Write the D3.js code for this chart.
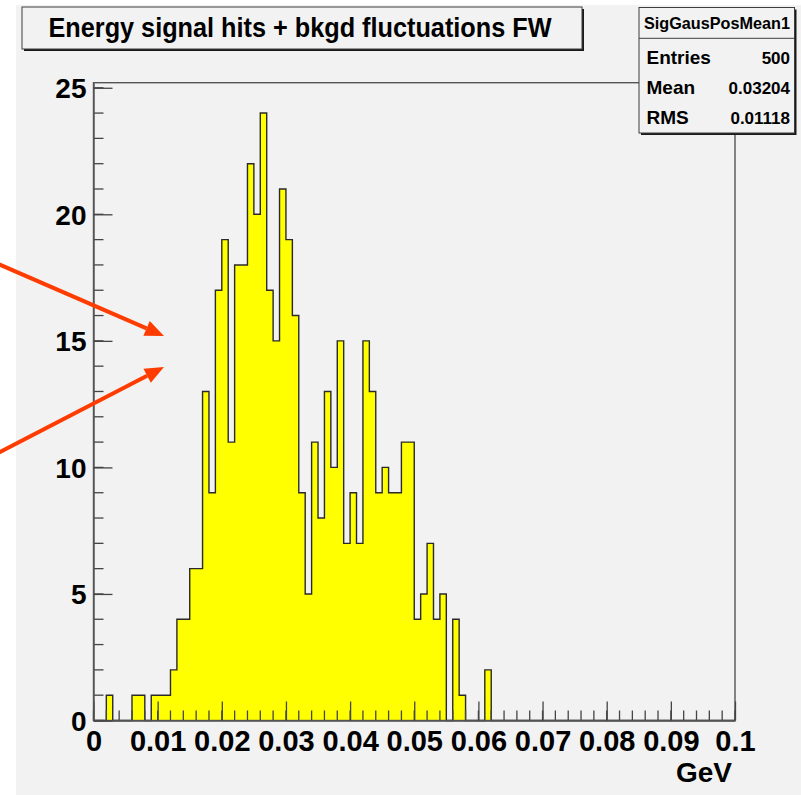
<!DOCTYPE html>
<html>
<head>
<meta charset="utf-8">
<script src="https://cdn.jsdelivr.net/npm/d3@7"></script>
<style>
  html, body { margin: 0; padding: 0; background: #ffffff; }
  svg { display: block; }
  text { font-family: "Liberation Sans", Arial, Helvetica, sans-serif; font-weight: bold; fill: #000; }
</style>
</head>
<body>
<svg id="chart" width="801" height="795"></svg>
<script>
// Histogram: 100 bins of 0.001 GeV between 0 and 0.1 GeV
const binLow = 0;
const binWidth = 0.001;
const counts = [
  0, 0, 1, 0, 0, 0, 1, 1, 0, 1,
  1, 1, 2, 4, 4, 6, 6, 13, 9, 17,
  19, 11, 18, 18, 22, 20, 24, 17, 15, 21,
  19, 16, 9, 5, 11, 8, 13, 10, 15, 7,
  9, 7, 15, 13, 9, 10, 9, 9, 11, 11,
  4, 5, 7, 4, 5, 0, 4, 1, 0, 0,
  0, 2, 0, 0, 0, 0, 0, 0, 0, 0,
  0, 0, 0, 0, 0, 0, 0, 0, 0, 0,
  0, 0, 0, 0, 0, 0, 0, 0, 0, 0,
  0, 0, 0, 0, 0, 0, 0, 0, 0, 0
];

const xMajorTicks = [0, 0.01, 0.02, 0.03, 0.04, 0.05, 0.06, 0.07, 0.08, 0.09, 0.1];
const xTickLabels = ["0", "0.01", "0.02", "0.03", "0.04", "0.05", "0.06", "0.07", "0.08", "0.09", "0.1"];
const yMajorTicks = [0, 5, 10, 15, 20, 25];
const yTickLabels = ["0", "5", "10", "15", "20", "25"];

const titleText = "Energy signal hits + bkgd fluctuations FW";
const xAxisTitle = "GeV";
const statsName = "SigGausPosMean1";
const statsLabels = ["Entries", "Mean", "RMS"];
const statsValues = ["500", "0.03204", "0.01118"];

const svg = d3.select("#chart");
const W = 801, H = 795;
const plot = { left: 93.5, right: 735, top: 82.7, bottom: 720.5 };
const padFill = "#f2f2f2";
const lineCol = "#3c3c3c";

// pad background
svg.append("rect").attr("x", 16).attr("y", 5).attr("width", W - 16).attr("height", H - 5)
  .attr("fill", padFill);

const xMax = binLow + binWidth * counts.length;
const x = d3.scaleLinear().domain([binLow, xMax]).range([plot.left, plot.right]);
const y = d3.scaleLinear().domain([0, d3.max(counts) * 1.05]).range([plot.bottom, plot.top]);

// step contour of the histogram
const pts = [[binLow, 0]];
counts.forEach((c, i) => {
  const lo = binLow + i * binWidth;
  pts.push([lo, c], [lo + binWidth, c]);
});
pts.push([xMax, 0]);

svg.append("path")
  .attr("d", d3.area().x(d => x(d[0])).y0(y(0)).y1(d => y(d[1]))(pts))
  .attr("fill", "#ffff00");
svg.append("path")
  .attr("d", d3.line().x(d => x(d[0])).y(d => y(d[1]))(pts))
  .attr("fill", "none").attr("stroke", "#2a2a2a").attr("stroke-width", 1.4);

// frame
svg.append("rect")
  .attr("x", plot.left).attr("y", plot.top)
  .attr("width", plot.right - plot.left).attr("height", plot.bottom - plot.top)
  .attr("fill", "none").attr("stroke", "#555").attr("stroke-width", 1.4);

// minor ticks
const xMinor = d3.range(0, 51).map(i => +(i * 0.002).toFixed(4));
svg.append("g").selectAll("line").data(xMinor).join("line")
  .attr("x1", d => x(d)).attr("x2", d => x(d))
  .attr("y1", plot.bottom).attr("y2", plot.bottom - 10)
  .attr("stroke", "#444").attr("stroke-width", 1.3);
const yMinor = d3.range(0, 26);
svg.append("g").selectAll("line").data(yMinor).join("line")
  .attr("x1", plot.left).attr("x2", plot.left + 10)
  .attr("y1", d => y(d)).attr("y2", d => y(d))
  .attr("stroke", "#444").attr("stroke-width", 1.3);

// major ticks and labels
const xAxis = d3.axisBottom(x).tickValues(xMajorTicks)
  .tickFormat((d, i) => xTickLabels[i]).tickSize(-19).tickSizeOuter(0).tickPadding(10);
const gx = svg.append("g").attr("transform", `translate(0,${plot.bottom})`).call(xAxis);
gx.select(".domain").attr("stroke", "#555").attr("stroke-width", 1.4);
gx.selectAll(".tick line").attr("stroke", "#444").attr("stroke-width", 1.3);
gx.selectAll(".tick text").attr("font-size", 29).attr("font-family", null).attr("fill", "#000")
  .attr("dy", "0.7em");

const yAxis = d3.axisLeft(y).tickValues(yMajorTicks)
  .tickFormat((d, i) => yTickLabels[i]).tickSize(-19).tickSizeOuter(0).tickPadding(7);
const gy = svg.append("g").attr("transform", `translate(${plot.left},0)`).call(yAxis);
gy.select(".domain").attr("stroke", "#555").attr("stroke-width", 1.4);
gy.selectAll(".tick line").attr("stroke", "#444").attr("stroke-width", 1.3);
gy.selectAll(".tick text").attr("font-size", 28).attr("font-family", null).attr("fill", "#000")
  .attr("dy", "0.35em");

// axis title
svg.append("text").attr("x", 732).attr("y", 782).attr("text-anchor", "end")
  .attr("font-size", 28).text(xAxisTitle);

// boxes with a drop shadow
function shadowBox(x0, y0, x1, y1) {
  svg.append("rect").attr("x", x0 + 2).attr("y", y0 + 2).attr("width", x1 - x0).attr("height", y1 - y0)
    .attr("fill", "#1a1a1a");
  svg.append("rect").attr("x", x0).attr("y", y0).attr("width", x1 - x0).attr("height", y1 - y0)
    .attr("fill", padFill).attr("stroke", lineCol).attr("stroke-width", 1);
}
shadowBox(22, 7, 582, 49);
svg.append("text").attr("x", 300).attr("y", 37).attr("text-anchor", "middle")
  .attr("font-size", 27).attr("textLength", 503).attr("lengthAdjust", "spacingAndGlyphs")
  .text(titleText);

// statistics box
shadowBox(639, 7.5, 794.5, 133);
svg.append("line").attr("x1", 639).attr("x2", 794.5).attr("y1", 38.3).attr("y2", 38.3)
  .attr("stroke", lineCol).attr("stroke-width", 1);
svg.append("text").attr("x", 717).attr("y", 29).attr("text-anchor", "middle")
  .attr("font-size", 16.5).attr("textLength", 146).attr("lengthAdjust", "spacingAndGlyphs")
  .text(statsName);
const rowY = [63.5, 93.5, 124];
statsLabels.forEach((lab, i) => {
  svg.append("text").attr("x", 646.5).attr("y", rowY[i]).attr("font-size", 19).text(lab);
  svg.append("text").attr("x", 790).attr("y", rowY[i]).attr("text-anchor", "end")
    .attr("font-size", 17).text(statsValues[i]);
});

// annotation arrows
function arrow(x0, y0, x1, y1) {
  const col = "#ff3c00";
  const ang = Math.atan2(y1 - y0, x1 - x0);
  const len = 19, half = 8;
  const bx = x1 - len * Math.cos(ang), by = y1 - len * Math.sin(ang);
  svg.append("line").attr("x1", x0).attr("y1", y0).attr("x2", bx).attr("y2", by)
    .attr("stroke", col).attr("stroke-width", 4);
  const px = -Math.sin(ang) * half, py = Math.cos(ang) * half;
  svg.append("path")
    .attr("d", `M${x1},${y1}L${bx + px},${by + py}L${bx - px},${by - py}Z`)
    .attr("fill", col);
}
arrow(-4, 263, 164, 336);
arrow(-4, 454, 164, 367);
</script>
</body>
</html>
